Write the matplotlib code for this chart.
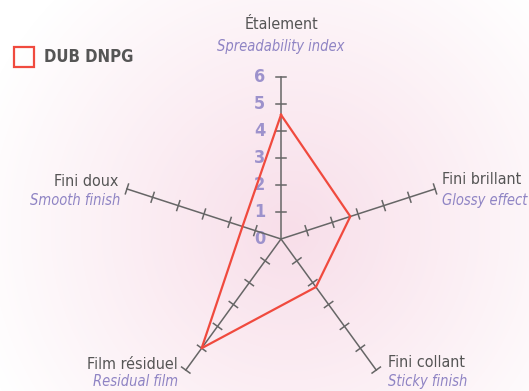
import numpy as np
import matplotlib
matplotlib.use("Agg")
import matplotlib.pyplot as plt
from matplotlib.patches import Rectangle

# data
labels_fr = ["Étalement", "Fini brillant", "Fini collant", "Film résiduel", "Fini doux"]
labels_en = ["Spreadability index", "Glossy effect", "Sticky finish", "Residual film", "Smooth finish"]
values = [4.6, 2.7, 2.2, 5.0, 1.5]
series_name = "DUB DNPG"
ticks = [0, 1, 2, 3, 4, 5, 6]
rmax = 6

plt.rcParams['font.family'] = ['DejaVu Sans']
plt.rcParams['font.stretch'] = 'condensed'

fig = plt.figure(figsize=(5.29, 3.91), dpi=100)

# background radial gradient
bg = fig.add_axes([0, 0, 1, 1])
yy, xx = np.mgrid[0:391, 0:529]
d = np.sqrt((xx - 290) ** 2 + (yy - 230) ** 2) / 330
d = np.clip(d, 0, 1)
pink = np.array([248, 222, 233]) / 255
white = np.array([1.0, 1.0, 1.0])
img = pink[None, None, :] * (1 - d[..., None]) + white[None, None, :] * d[..., None]
bg.imshow(img, aspect='auto', extent=[0, 1, 0, 1])
bg.axis('off')

ax = fig.add_axes([0, 0, 1, 1])
ax.patch.set_alpha(0)
ppu = 27.0  # pixels per unit
cx, cy = 281, 239
ax.set_xlim(-cx / ppu, (529 - cx) / ppu)
ax.set_ylim(-(391 - cy) / ppu, cy / ppu)
ax.axis('off')

n = len(labels_fr)
angles = np.deg2rad(90 - 72 * np.arange(n))

axis_col = '#666666'
tick_half = 0.19
for a in angles:
    ux, uy = np.cos(a), np.sin(a)
    ax.plot([0, rmax * ux], [0, rmax * uy], color=axis_col, lw=1.1, zorder=2)
    px, py = -uy, ux
    for t in ticks[1:]:
        ax.plot([t * ux - tick_half * px, t * ux + tick_half * px],
                [t * uy - tick_half * py, t * uy + tick_half * py],
                color=axis_col, lw=1.1, zorder=2)

# tick labels on the first axis
for t in ticks:
    ax.text(-0.8, t, str(t), color='#9d92cc', fontsize=13, fontweight='bold',
            ha='center', va='center', zorder=1)

# data polygon
xs = [v * np.cos(a) for v, a in zip(values, angles)]
ys = [v * np.sin(a) for v, a in zip(values, angles)]
ax.plot(xs + xs[:1], ys + ys[:1], color='#f04a3e', lw=1.6, zorder=3)

# axis labels: offsets in pixels (fr_dx, fr_dy, en_dx, en_dy, ha)
offsets = [
    (0, 52, 0, 30, 'center'),
    (7, 9, 7, -12, 'left'),
    (12, 8, 12, -11, 'left'),
    (-8, 6, -8, -11, 'right'),
    (-9, 7, -7, -12, 'right'),
]
k = 0.72
for fr, en, a, (fdx, fdy, edx, edy, ha) in zip(labels_fr, labels_en, angles, offsets):
    end = (rmax * np.cos(a), rmax * np.sin(a))
    ax.annotate(fr, xy=end, xytext=(fdx * k, fdy * k), textcoords='offset points',
                ha=ha, va='center', fontsize=11.5, color='#555555')
    ax.annotate(en, xy=end, xytext=(edx * k, edy * k), textcoords='offset points',
                ha=ha, va='center', fontsize=10.5, color='#8f84c4', style='italic')

# legend
fig.patches.append(Rectangle((14 / 529, 1 - 67 / 391), 20 / 529, 20 / 391,
                             transform=fig.transFigure, fill=False,
                             edgecolor='#f04a3e', lw=1.6))
fig.text(44 / 529, 1 - 57 / 391, series_name, fontsize=12, fontweight='bold',
         color='#555555', va='center', ha='left')

fig.savefig('out.png', dpi=100)
